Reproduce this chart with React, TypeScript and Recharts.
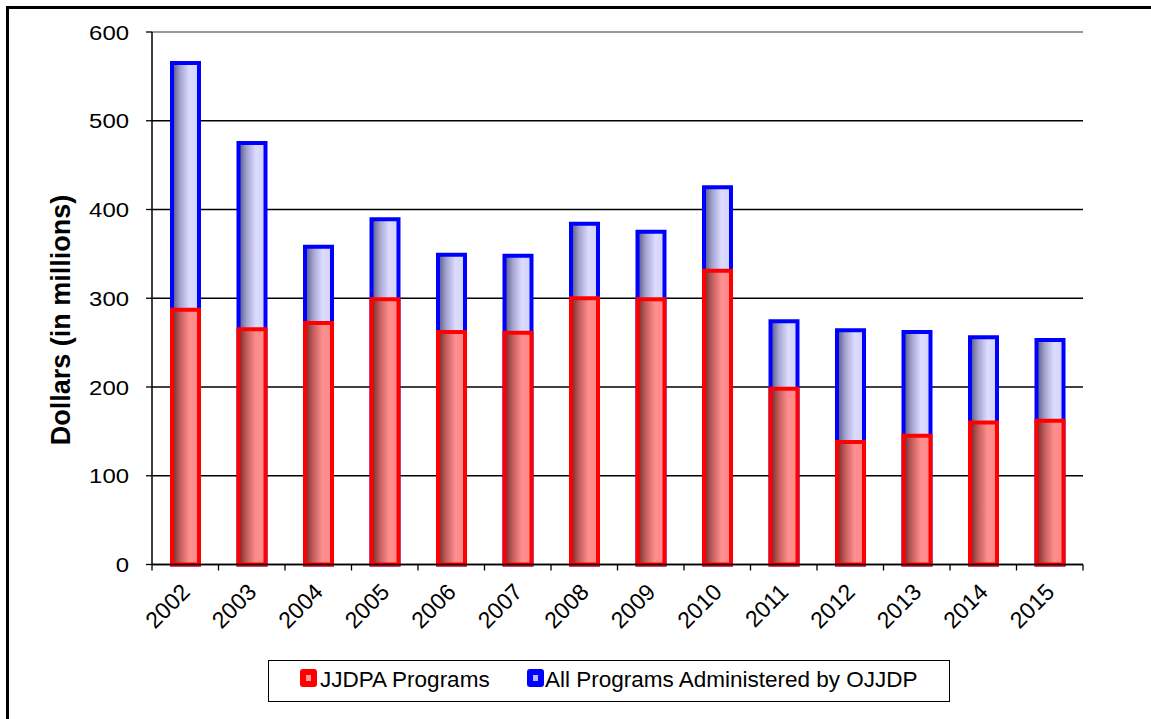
import React from 'react';
import {
  BarChart,
  Bar,
  XAxis,
  YAxis,
  CartesianGrid,
  ReferenceLine,
  Legend,
} from 'recharts';

// ---- data ----
const years = ['2002', '2003', '2004', '2005', '2006', '2007', '2008', '2009', '2010', '2011', '2012', '2013', '2014', '2015'];
const jjdpaPrograms = [287, 265, 272, 299, 262, 261, 300, 299, 331, 198, 138, 145, 160, 162];
const allProgramsOJJDP = [565, 475, 358, 389, 349, 348, 384, 375, 425, 274, 264, 262, 256, 253];
const yTicks = [0, 100, 200, 300, 400, 500, 600];
const seriesNames = ['JJDPA Programs', 'All Programs Administered by OJJDP'];
const yAxisTitle = 'Dollars (in millions)';

const data = years.map((y, i) => ({ year: y, jjdpa: jjdpaPrograms[i], all: allProgramsOJJDP[i] }));

// ---- layout ----
const W = 1151;
const H = 719;
const PLOT_LEFT = 152;
const PLOT_RIGHT = 1083;
const PLOT_TOP = 32;
const PLOT_BOTTOM = 564.5;
const BAND = (PLOT_RIGHT - PLOT_LEFT) / years.length;
const FONT = '"Liberation Sans", Arial, sans-serif';

const XTick = (props: any) => {
  const { x, y, payload, index } = props;
  const half = BAND / 2;
  const tx = x + 6;
  const ty = y + 29;
  return (
    <g>
      <line x1={x - half} y1={y} x2={x - half} y2={y + 6} stroke="#000" strokeWidth={1.3} />
      {index === years.length - 1 && (
        <line x1={x + half} y1={y} x2={x + half} y2={y + 6} stroke="#000" strokeWidth={1.3} />
      )}
      <text
        x={tx}
        y={ty}
        textAnchor="end"
        transform={`rotate(-45 ${tx} ${ty})`}
        fontFamily={FONT}
        fontSize={23}
        fill="#000"
      >
        {payload.value}
      </text>
    </g>
  );
};

const YTick = (props: any) => {
  const { x, y, payload } = props;
  return (
    <text
      transform={`translate(${x},${y + 7.5}) scale(1.14,1)`}
      textAnchor="end"
      fontFamily={FONT}
      fontSize={21}
      fill="#000"
    >
      {payload.value}
    </text>
  );
};

const TitleLabel = () => {
  const cx = 61;
  const cy = 320;
  return (
    <text
      x={cx}
      y={cy}
      textAnchor="middle"
      dominantBaseline="central"
      transform={`rotate(-90 ${cx} ${cy})`}
      fontFamily={FONT}
      fontWeight="bold"
      fontSize={27}
      fill="#000"
    >
      {yAxisTitle}
    </text>
  );
};

const LegendIcon = ({ color, inner, left }: { color: string; inner: string; left: number }) => (
  <div
    style={{
      position: 'absolute',
      left,
      top: 8,
      width: 17,
      height: 18,
      background: color,
      borderRadius: 3,
    }}
  >
    <div
      style={{
        position: 'absolute',
        left: 6,
        top: 6,
        width: 5,
        height: 6,
        background: inner,
      }}
    />
  </div>
);

const LegendContent = () => (
  <div
    style={{
      position: 'relative',
      width: 682,
      height: 42,
      border: '1px solid #000',
      boxSizing: 'border-box',
      background: '#fff',
      fontFamily: FONT,
      fontSize: 22.5,
      color: '#000',
    }}
  >
    <LegendIcon color="#ff0000" inner="#ff9a9a" left={31} />
    <span style={{ position: 'absolute', left: 51, top: 6, lineHeight: '26px', whiteSpace: 'nowrap' }}>
      {seriesNames[0]}
    </span>
    <LegendIcon color="#0000ff" inner="#b8b8ff" left={258} />
    <span style={{ position: 'absolute', left: 276, top: 6, lineHeight: '26px', whiteSpace: 'nowrap' }}>
      {seriesNames[1]}
    </span>
  </div>
);

export default function App() {
  return (
    <div style={{ position: 'absolute', left: 0, top: 0, width: W, height: H, background: '#fff', overflow: 'hidden' }}>
      <div
        style={{
          position: 'absolute',
          left: 6,
          top: 6,
          width: W,
          height: H,
          borderLeft: '3px solid #000',
          borderTop: '3px solid #000',
        }}
      />
      <div style={{ position: 'absolute', left: 0, top: 0 }}>
        <BarChart
          width={W}
          height={H}
          data={data}
          margin={{ top: PLOT_TOP, right: W - PLOT_RIGHT, left: 0, bottom: 0 }}
          barSize={27}
          barGap={-27}
          barCategoryGap={0}
        >
          <defs>
            <linearGradient id="redGrad" x1="0" y1="0" x2="1" y2="0">
              <stop offset="0%" stopColor="#6a2a2a" />
              <stop offset="30%" stopColor="#c45c5c" />
              <stop offset="65%" stopColor="#ff8e8e" />
              <stop offset="100%" stopColor="#ff8a8a" />
            </linearGradient>
            <linearGradient id="blueGrad" x1="0" y1="0" x2="1" y2="0">
              <stop offset="0%" stopColor="#52527c" />
              <stop offset="30%" stopColor="#a2a2d0" />
              <stop offset="65%" stopColor="#dcdcff" />
              <stop offset="100%" stopColor="#d2d2f6" />
            </linearGradient>
          </defs>
          <CartesianGrid vertical={false} stroke="#000" strokeWidth={1.4} />
          <ReferenceLine y={600} stroke="#9a9a9a" strokeWidth={2} />
          <XAxis
            dataKey="year"
            height={H - PLOT_BOTTOM}
            axisLine={{ stroke: '#000', strokeWidth: 1.5 }}
            tickLine={false}
            tickSize={0}
            tickMargin={0}
            interval={0}
            tick={<XTick />}
          />
          <YAxis
            width={PLOT_LEFT}
            domain={[0, 600]}
            ticks={yTicks}
            interval={0}
            axisLine={{ stroke: '#000', strokeWidth: 1.5 }}
            tickLine={{ stroke: '#000', strokeWidth: 1.3 }}
            tickSize={6}
            tickMargin={17}
            tick={<YTick />}
            label={<TitleLabel />}
          />
          <YAxis
            yAxisId="right"
            orientation="right"
            width={0}
            domain={[0, 600]}
            tick={false}
            tickLine={false}
            axisLine={{ stroke: '#9a9a9a', strokeWidth: 2 }}
          />
          <Legend
            verticalAlign="middle"
            layout="horizontal"
            content={<LegendContent />}
            wrapperStyle={{ left: 268, top: 660, width: 682, height: 42 }}
          />
          <Bar
            dataKey="all"
            name={seriesNames[1]}
            fill="url(#blueGrad)"
            stroke="#0000ff"
            strokeWidth={4}
            isAnimationActive={false}
          />
          <Bar
            dataKey="jjdpa"
            name={seriesNames[0]}
            fill="url(#redGrad)"
            stroke="#ff0000"
            strokeWidth={4}
            isAnimationActive={false}
          />
        </BarChart>
      </div>
    </div>
  );
}
